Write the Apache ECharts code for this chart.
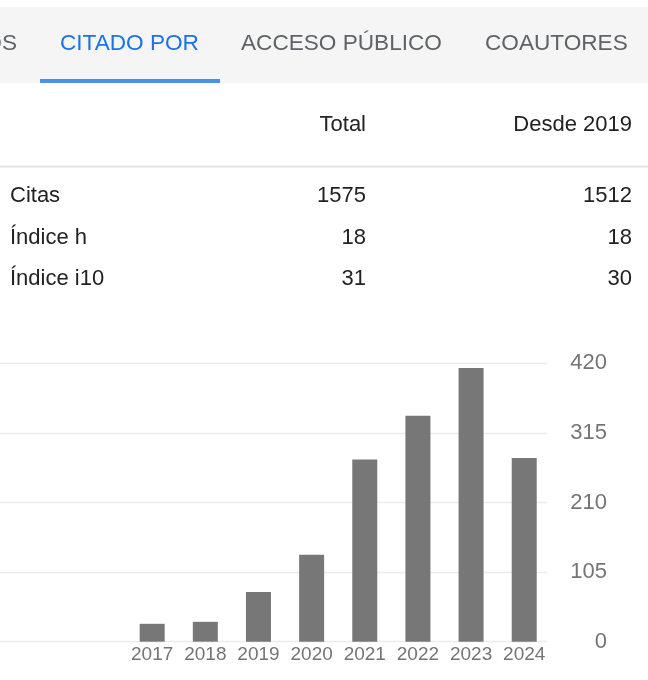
<!DOCTYPE html>
<html>
<head>
<meta charset="utf-8">
<script src="https://cdn.jsdelivr.net/npm/echarts@6/dist/echarts.min.js"></script>
<style>
html,body{margin:0;padding:0;background:#fff;}
#chart{width:648px;height:680px;}
</style>
</head>
<body>
<div id="chart"></div>
<script>
// ---- data ----
const years = ['2017','2018','2019','2020','2021','2022','2023','2024'];
const citations = [27, 30, 75, 131, 275, 341, 413, 277];
const yTicks = [0, 105, 210, 315, 420];
const tabs = ['ARTÍCULOS', 'CITADO POR', 'ACCESO PÚBLICO', 'COAUTORES'];
const tableHeader = ['', 'Total', 'Desde 2019'];
const rowLabels = ['Citas', 'Índice h', 'Índice i10'];
const totalCol = ['1575', '18', '31'];
const sinceCol = ['1512', '18', '30'];

const FONT = "'Liberation Sans', Arial, Helvetica, sans-serif";
const chart = echarts.init(document.getElementById('chart'), null, {renderer: 'canvas'});

const graphics = [];
// tab bar background
graphics.push({type: 'rect', shape: {x: 0, y: 7, width: 648, height: 76}, style: {fill: '#f5f5f5'}, z: -10});
// tabs
const tabX = [17, 60, 241, 485];
const tabAlign = ['right', 'left', 'left', 'left'];
tabs.forEach((t, i) => {
  graphics.push({type: 'text', x: tabX[i], y: 43.5,
    style: {text: t, fill: i === 1 ? '#1a73e8' : '#5f6368', font: '22.6px ' + FONT, align: tabAlign[i], verticalAlign: 'middle'}});
});
// active underline
graphics.push({type: 'rect', shape: {x: 40, y: 79, width: 180, height: 4}, style: {fill: '#4d8fe8'}});
// header
graphics.push({type: 'text', x: 366, y: 125, style: {text: tableHeader[1], fill: '#222', font: '22px ' + FONT, align: 'right', verticalAlign: 'middle'}});
graphics.push({type: 'text', x: 632, y: 125, style: {text: tableHeader[2], fill: '#222', font: '22px ' + FONT, align: 'right', verticalAlign: 'middle'}});
// separator
graphics.push({type: 'rect', shape: {x: 0, y: 165.5, width: 648, height: 2}, style: {fill: '#e4e4e4'}});
// rows
const rowY = [196, 237.5, 279];
rowLabels.forEach((r, i) => {
  graphics.push({type: 'text', x: 10, y: rowY[i], style: {text: r, fill: '#222', font: '22px ' + FONT, align: 'left', verticalAlign: 'middle'}});
  graphics.push({type: 'text', x: 366, y: rowY[i], style: {text: totalCol[i], fill: '#222', font: '22px ' + FONT, align: 'right', verticalAlign: 'middle'}});
  graphics.push({type: 'text', x: 632, y: rowY[i], style: {text: sinceCol[i], fill: '#222', font: '22px ' + FONT, align: 'right', verticalAlign: 'middle'}});
});

const option = {
  animation: false,
  backgroundColor: '#fff',
  graphic: graphics,
  grid: [
    {left: 0, right: 101, top: 363.3, bottom: 38.3},
    {left: 125.6, right: 97.2, top: 363.3, bottom: 38.3}
  ],
  xAxis: [
    {gridIndex: 0, type: 'value', show: false, min: 0, max: 1},
    {gridIndex: 1, type: 'category', data: years,
      axisLine: {show: false}, axisTick: {show: false},
      axisLabel: {color: '#757575', fontSize: 19, fontFamily: FONT, margin: 4, interval: 0, hideOverlap: false}}
  ],
  yAxis: [
    {gridIndex: 0, type: 'value', position: 'right', min: yTicks[0], max: yTicks[yTicks.length - 1], interval: yTicks[1] - yTicks[0],
      axisLine: {show: false}, axisTick: {show: false},
      splitLine: {show: true, lineStyle: {color: '#ececec', width: 1.3}},
      axisLabel: {color: '#757575', fontSize: 22, fontFamily: FONT, align: 'right', margin: 60}},
    {gridIndex: 1, type: 'value', show: false, min: yTicks[0], max: yTicks[yTicks.length - 1], splitLine: {show: false}}
  ],
  series: [
    {type: 'bar', xAxisIndex: 1, yAxisIndex: 1, data: citations, barWidth: 25,
      itemStyle: {color: '#777777'}}
  ]
};
chart.setOption(option);
</script>
</body>
</html>
